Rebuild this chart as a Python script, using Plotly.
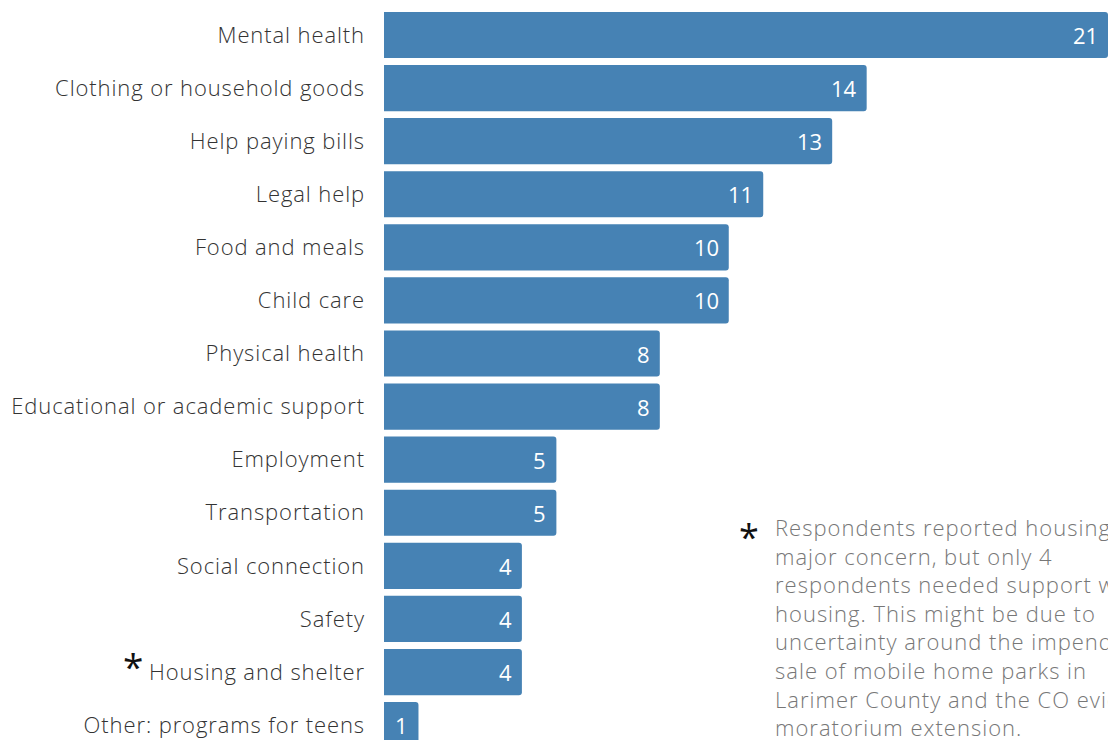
import plotly.graph_objects as go

categories = [
    "Mental health",
    "Clothing or household goods",
    "Help paying bills",
    "Legal help",
    "Food and meals",
    "Child care",
    "Physical health",
    "Educational or academic support",
    "Employment",
    "Transportation",
    "Social connection",
    "Safety",
    "Housing and shelter",
    "Other: programs for teens",
]
values = [21, 14, 13, 11, 10, 10, 8, 8, 5, 5, 4, 4, 4, 1]
starred = {"Housing and shelter"}
note_lines = [
    "Respondents reported housing as a",
    "major concern, but only 4",
    "respondents needed support with",
    "housing. This might be due to",
    "uncertainty around the impending",
    "sale of mobile home parks in",
    "Larimer County and the CO eviction",
    "moratorium extension.",
]

BAR = "#4682B4"
FONT = "Open Sans"


def spaced(s, px):
    return f"<span style='letter-spacing:{px}px'>{s}</span>"


tick_text = []
for c in categories:
    t = spaced(c, 0.9)
    if c in starred:
        t = ("<span style='font-size:37px;color:#111;font-weight:400'>*</span> " + t)
    tick_text.append(t)

note_text = "<br>".join(spaced(l, 1.0) for l in note_lines)

fig = go.Figure()
fig.add_trace(go.Bar(
    x=values, y=categories, orientation="h",
    marker=dict(color=BAR, line=dict(width=0)),
    hoverinfo="skip",
))

for c, v in zip(categories, values):
    fig.add_annotation(
        x=v, y=c, xref="x", yref="y", text=str(v), showarrow=False,
        xanchor="right", xshift=-8,
        font=dict(family=FONT, size=22, color="white"),
    )

W, H, L = 1108, 740, 384
fig.add_annotation(
    xref="paper", yref="paper", x=(773 - L) / (W - L), y=1 - 510 / H,
    xanchor="left", yanchor="top", align="left", showarrow=False,
    text=note_text, font=dict(family=FONT, size=22, color="#777", weight=300),
)
fig.add_annotation(
    xref="paper", yref="paper", x=(749 - L) / (W - L), y=1 - 536 / H,
    xanchor="center", yanchor="middle", showarrow=False,
    text="*", font=dict(family=FONT, size=36, color="#111"),
)

fig.update_layout(
    width=W, height=H,
    margin=dict(l=L, r=0, t=0, b=0),
    paper_bgcolor="white", plot_bgcolor="white",
    bargap=0.13, barcornerradius=3,
    showlegend=False,
    xaxis=dict(range=[0, 21], visible=False, fixedrange=True),
    yaxis=dict(
        type="category", range=[13.28, -0.659],
        tickmode="array", tickvals=categories, ticktext=tick_text,
        showgrid=False, zeroline=False, showline=False, ticks="",
        ticklabelstandoff=18,
        tickfont=dict(family=FONT, size=22, color="#333", weight=300),
    ),
)

fig.write_html("out.html")
